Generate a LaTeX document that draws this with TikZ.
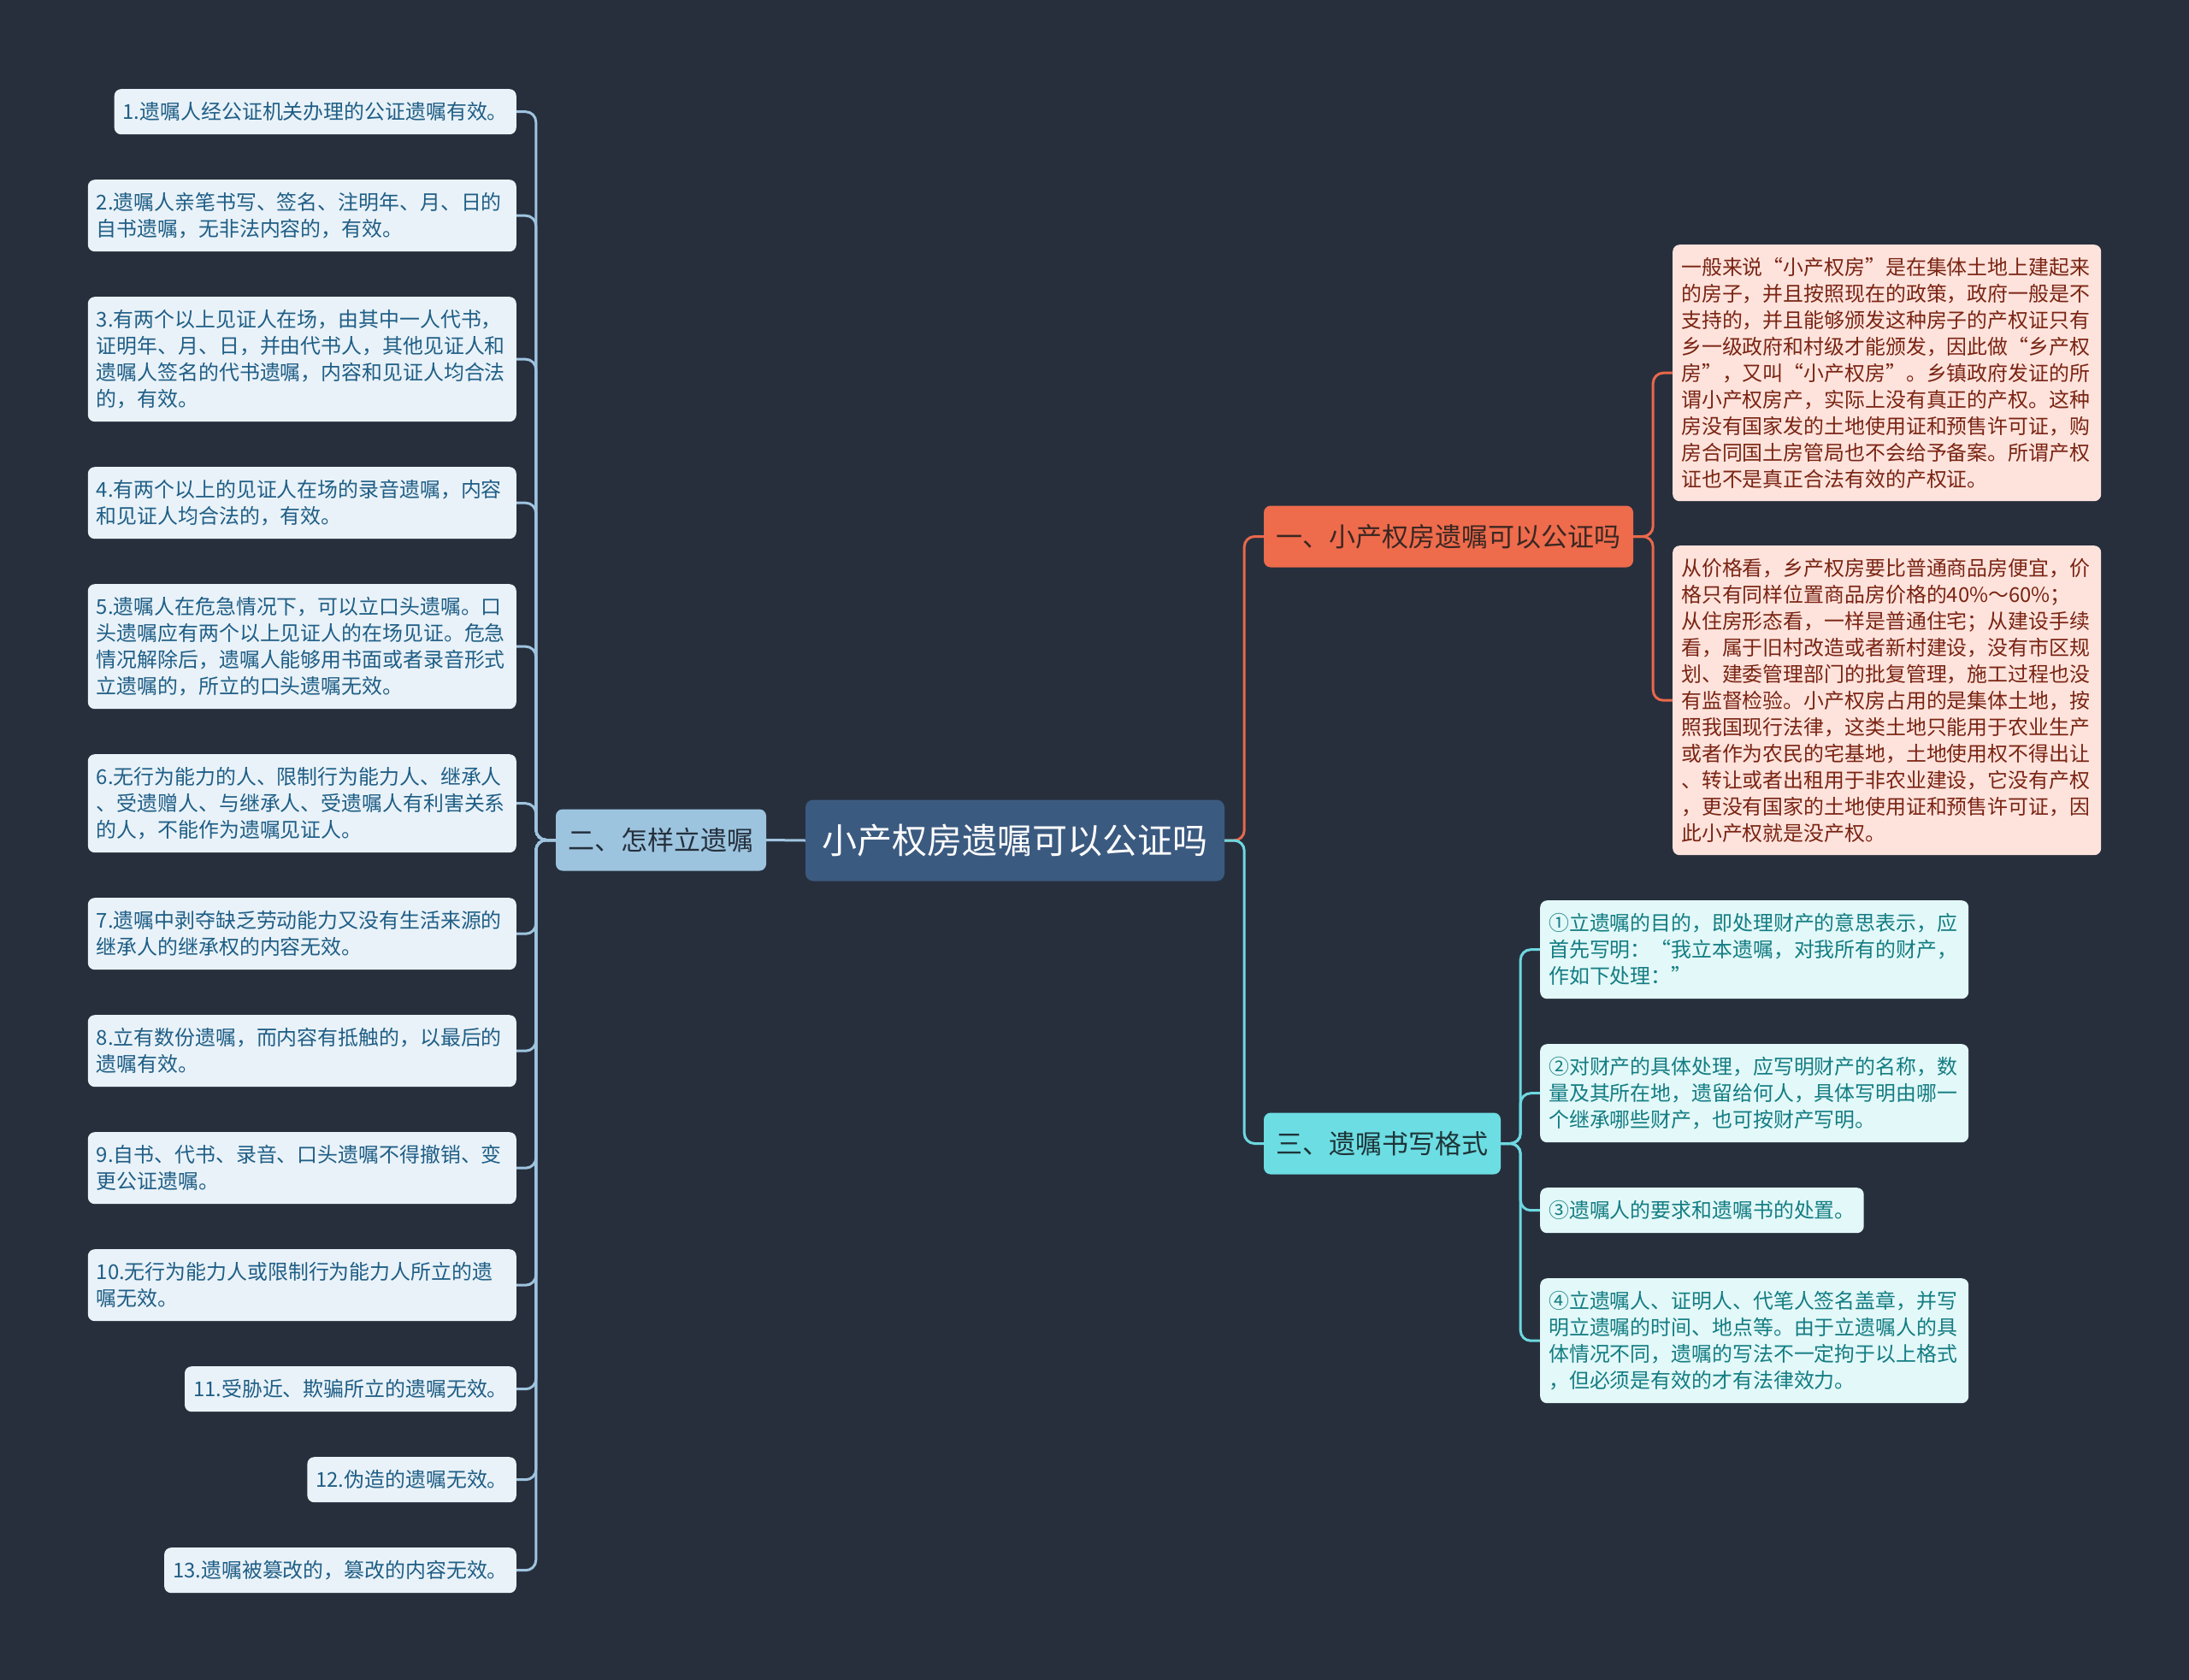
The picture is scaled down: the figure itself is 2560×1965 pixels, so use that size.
\documentclass[tikz,border=0pt]{standalone}
\usepackage{fontspec}
\setmainfont{Noto Sans CJK SC}
\definecolor{bg}{HTML}{272F3D}
\definecolor{rootfill}{HTML}{3B5A80}
\definecolor{Afill}{HTML}{EE6B4C}
\definecolor{Atext}{HTML}{3A2722}
\definecolor{Bfill}{HTML}{9DC4DE}
\definecolor{Btext}{HTML}{25303D}
\definecolor{Cfill}{HTML}{6CDDE3}
\definecolor{Ctext}{HTML}{1E3438}
\definecolor{lfill}{HTML}{E9F2F8}
\definecolor{ltext}{HTML}{1F5E86}
\definecolor{pfill}{HTML}{FDE3DC}
\definecolor{ptext}{HTML}{7A2413}
\definecolor{cfill}{HTML}{E3F8F8}
\definecolor{ctext}{HTML}{137D83}
\definecolor{lline}{HTML}{9FC4DF}
\definecolor{Aline}{HTML}{E9684B}
\definecolor{Cline}{HTML}{6ED8E0}
\tikzset{
  leafbase/.style={rounded corners=8pt, inner xsep=10pt, inner ysep=3pt, align=left,
    font=\fontsize{23.9pt}{31pt}\selectfont},
  lbox/.style={leafbase, fill=lfill, text=ltext, anchor=north east},
  pbox/.style={leafbase, fill=pfill, text=ptext, anchor=north west},
  cbox/.style={leafbase, fill=cfill, text=ctext, anchor=north west},
  wide/.style={text width=481pt},
  rootbox/.style={rounded corners=9pt, fill=rootfill, text=white, minimum width=490pt,
    minimum height=95pt, font=\fontsize{41pt}{48pt}\selectfont},
  branchbox/.style={rounded corners=8pt, minimum height=72pt, font=\fontsize{31pt}{38pt}\selectfont},
  conn/.style={line width=3pt, rounded corners=12pt},
}
\begin{document}
\begin{tikzpicture}[x=1pt,y=-1pt]
\fill[bg] (0,0) rectangle (2560,1965);
\useasboundingbox (0,0) rectangle (2560,1965);

% root and branches
\node[rootbox] (root) at (1187,983) {小产权房遗嘱可以公证吗};
\node[branchbox, fill=Afill, text=Atext, minimum width=432pt] (bA) at (1694,627.5) {一、小产权房遗嘱可以公证吗};
\node[branchbox, fill=Bfill, text=Btext, minimum width=246pt] (bB) at (773,982.5) {二、怎样立遗嘱};
\node[branchbox, fill=Cfill, text=Ctext, minimum width=277pt] (bC) at (1616.5,1337.5) {三、遗嘱书写格式};

% left leaves
\node[lbox, minimum height=53pt] (l1) at (604,104) {1.遗嘱人经公证机关办理的公证遗嘱有效。};
\node[lbox, wide, minimum height=84pt] (l2) at (604,210) {2.遗嘱人亲笔书写、签名、注明年、月、日的\\自书遗嘱，无非法内容的，有效。};
\node[lbox, wide, minimum height=146pt] (l3) at (604,347) {3.有两个以上见证人在场，由其中一人代书，\\证明年、月、日，并由代书人，其他见证人和\\遗嘱人签名的代书遗嘱，内容和见证人均合法\\的，有效。};
\node[lbox, wide, minimum height=84pt] (l4) at (604,546) {4.有两个以上的见证人在场的录音遗嘱，内容\\和见证人均合法的，有效。};
\node[lbox, wide, minimum height=146pt] (l5) at (604,683) {5.遗嘱人在危急情况下，可以立口头遗嘱。口\\头遗嘱应有两个以上见证人的在场见证。危急\\情况解除后，遗嘱人能够用书面或者录音形式\\立遗嘱的，所立的口头遗嘱无效。};
\node[lbox, wide, minimum height=115pt] (l6) at (604,882) {6.无行为能力的人、限制行为能力人、继承人\\、受遗赠人、与继承人、受遗嘱人有利害关系\\的人，不能作为遗嘱见证人。};
\node[lbox, wide, minimum height=84pt] (l7) at (604,1050) {7.遗嘱中剥夺缺乏劳动能力又没有生活来源的\\继承人的继承权的内容无效。};
\node[lbox, wide, minimum height=84pt] (l8) at (604,1187) {8.立有数份遗嘱，而内容有抵触的，以最后的\\遗嘱有效。};
\node[lbox, wide, minimum height=84pt] (l9) at (604,1324) {9.自书、代书、录音、口头遗嘱不得撤销、变\\更公证遗嘱。};
\node[lbox, wide, minimum height=84pt] (l10) at (604,1461) {10.无行为能力人或限制行为能力人所立的遗\\嘱无效。};
\node[lbox, minimum height=53pt] (l11) at (604,1598) {11.受胁近、欺骗所立的遗嘱无效。};
\node[lbox, minimum height=53pt] (l12) at (604,1704) {12.伪造的遗嘱无效。};
\node[lbox, minimum height=53pt] (l13) at (604,1810) {13.遗嘱被篡改的，篡改的内容无效。};

% pink leaves
\node[pbox, wide, minimum height=300pt] (p1) at (1956,286) {一般来说“小产权房”是在集体土地上建起来\\的房子，并且按照现在的政策，政府一般是不\\支持的，并且能够颁发这种房子的产权证只有\\乡一级政府和村级才能颁发，因此做“乡产权\\房”，又叫“小产权房”。乡镇政府发证的所\\谓小产权房产，实际上没有真正的产权。这种\\房没有国家发的土地使用证和预售许可证，购\\房合同国土房管局也不会给予备案。所谓产权\\证也不是真正合法有效的产权证。};
\node[pbox, wide, minimum height=362pt] (p2) at (1956,638) {从价格看，乡产权房要比普通商品房便宜，价\\格只有同样位置商品房价格的40\%～60\%；\\从住房形态看，一样是普通住宅；从建设手续\\看，属于旧村改造或者新村建设，没有市区规\\划、建委管理部门的批复管理，施工过程也没\\有监督检验。小产权房占用的是集体土地，按\\照我国现行法律，这类土地只能用于农业生产\\或者作为农民的宅基地，土地使用权不得出让\\、转让或者出租用于非农业建设，它没有产权\\，更没有国家的土地使用证和预售许可证，因\\此小产权就是没产权。};

% cyan leaves
\node[cbox, wide, minimum height=115pt] (c1) at (1801,1053) {①立遗嘱的目的，即处理财产的意思表示，应\\首先写明：“我立本遗嘱，对我所有的财产，\\作如下处理：”};
\node[cbox, wide, minimum height=115pt] (c2) at (1801,1221) {②对财产的具体处理，应写明财产的名称，数\\量及其所在地，遗留给何人，具体写明由哪一\\个继承哪些财产，也可按财产写明。};
\node[cbox, minimum height=53pt] (c3) at (1801,1389) {③遗嘱人的要求和遗嘱书的处置。};
\node[cbox, wide, minimum height=146pt] (c4) at (1801,1495) {④立遗嘱人、证明人、代笔人签名盖章，并写\\明立遗嘱的时间、地点等。由于立遗嘱人的具\\体情况不同，遗嘱的写法不一定拘于以上格式\\，但必须是有效的才有法律效力。};

% connectors
\draw[conn, lline] (root.west) -- (bB.east);
\draw[conn, Aline] (root.east) -- ++(23,0) |- (bA.west);
\draw[conn, Cline] (root.east) -- ++(23,0) |- (bC.west);
\foreach \n in {l1,l2,l3,l4,l5,l6,l7,l8,l9,l10,l11,l12,l13}
  \draw[conn, lline] (bB.west) -- ++(-23,0) |- (\n.east);
\foreach \n in {p1,p2}
  \draw[conn, Aline] (bA.east) -- ++(23,0) |- (\n.west);
\foreach \n in {c1,c2,c3,c4}
  \draw[conn, Cline] (bC.east) -- ++(23,0) |- (\n.west);
\end{tikzpicture}
\end{document}
